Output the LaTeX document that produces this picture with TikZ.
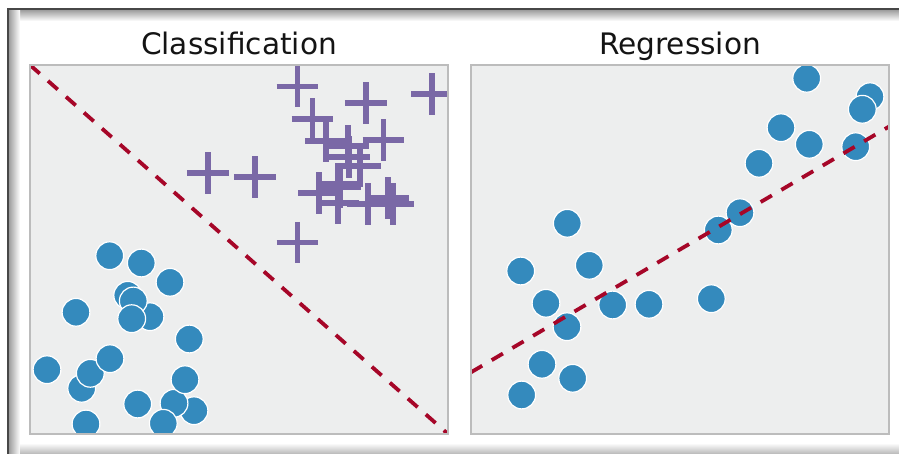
\documentclass[tikz,border=0pt]{standalone}
\usepackage{fontspec}
\setmainfont{DejaVu Sans}
\definecolor{ptblue}{HTML}{348ABD}
\definecolor{ptpurple}{HTML}{7A68A6}
\definecolor{fitred}{HTML}{A60628}
\definecolor{axbg}{HTML}{EDEEEE}
\definecolor{axedge}{HTML}{BCBCBC}
\tikzset{
  dot/.style={circle, inner sep=0pt, minimum size=27.8pt, fill=ptblue, draw=white, line width=1.2pt},
  plusmark/.style={ptpurple, line width=5.6pt},
  fitline/.style={fitred, line width=3.8pt, dash pattern=on 13pt off 11pt},
  panelbg/.style={fill=axbg},
  panelframe/.style={draw=axedge, line width=1.5pt},
  paneltitle/.style={anchor=base, inner sep=0pt, font=\fontsize{29.6}{34}\selectfont, text=black!92}
}
\begin{document}
\begin{tikzpicture}[x=1pt,y=-1pt]
\useasboundingbox (0,0) rectangle (899,454);
\fill[white] (0,0) rectangle (899,454);

% window edge with its soft inner shadow
\shade[top color=black!38, bottom color=white] (9,10) rectangle (899,21);
\shade[left color=black!38, right color=white] (9,10) rectangle (20,454);
\shade[top color=white, bottom color=black!28] (20,443) rectangle (899,454);
\draw[black!72, line width=2pt] (8,454) -- (8,9) -- (899,9);

% titles
\node[paneltitle] (tcls) at (239,55) {Classification};
\node[paneltitle] (treg) at (680,55) {Regression};

% ---------- classification panel ----------
\fill[panelbg] (30,65) rectangle (448,434);
\begin{scope}
  \clip (30,65) rectangle (448,434);
  \draw[fitline] (30,65) -- (448,434);
  \foreach \x/\y [count=\i] in {
      109.7/255.7, 141.3/263, 170/282.3, 127.7/295.3, 150/316.7,
      133.3/301, 131.7/318.7, 76/312.3, 189.3/339, 47/369.7,
      81.7/388.3, 90.3/373.3, 110/358.7, 137.7/404, 194/410.7,
      174/403.3, 185/379.7, 86/424, 163.3/423.3}
    \node[dot] (a\i) at (\x,\y) {};
  \foreach \x/\y in {
      297.3/86.7, 365.7/103.3, 432/94, 312.3/119, 383.3/140,
      207.7/173.3, 254.7/177.3, 297.3/242.7,
      326/141, 348/146, 349/157, 360/166, 338/184, 340/187,
      338/203, 319/193, 368/204, 388/198, 393/204}
    \draw[plusmark] (\x-20.8,\y) -- (\x+20.8,\y) (\x,\y-20.8) -- (\x,\y+20.8);
\end{scope}
\draw[panelframe] (30,65) rectangle (448,434);

% ---------- regression panel ----------
\fill[panelbg] (471,65) rectangle (889,434);
\begin{scope}
  \clip (471,65) rectangle (889,434);
  \foreach \x/\y [count=\i] in {
      806.7/78.3, 870/96.7, 862.3/109.3, 781/127.7, 809.3/144.3,
      855.7/146.7, 759/163.3, 740/212.7, 718.3/230, 567.3/223.3,
      589.3/265.3, 520.7/271, 546/303.3, 612.7/305, 649/304.3,
      711.3/298.7, 567/326.7, 542/364.3, 572.7/378.3, 521.7/395}
    \node[dot] (b\i) at (\x,\y) {};
  \coordinate (rl) at (471,372.3);
  \coordinate (rr) at (889,126.6);
  \draw[fitline] (rl) -- (rr);
\end{scope}
\draw[panelframe] (471,65) rectangle (889,434);
\end{tikzpicture}
\end{document}
